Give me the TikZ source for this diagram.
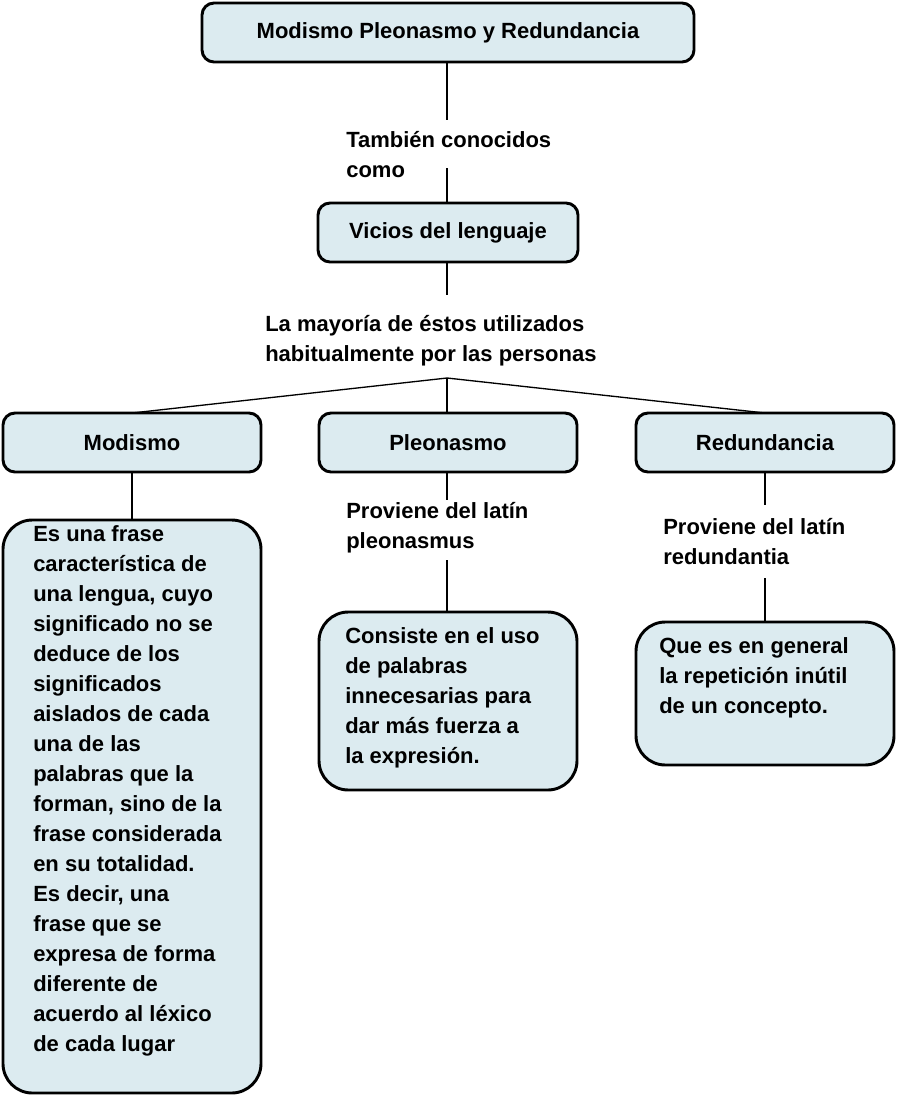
\documentclass[tikz,border=0pt]{standalone}
\usepackage{fontspec}
\setmainfont{Liberation Sans}
\begin{document}
\begin{tikzpicture}[x=0.75pt,y=-0.75pt,
  box/.style={draw=black,line width=2.2pt,fill=boxfill,rounded corners=9pt},
  fnt/.style={font=\fontsize{16.5}{22.5}\selectfont\bfseries},
  txt/.style={fnt,align=left,anchor=north west,inner sep=0pt},
  conn/.style={line width=1pt}]
\definecolor{boxfill}{HTML}{DCEBF0}
\useasboundingbox (0,0) rectangle (897,1096);
% boxes
\draw[box] (202,3) rectangle (694,62);
\node[fnt] (t) at (448,33) {Modismo Pleonasmo y Redundancia};
\draw[box] (318,203) rectangle (578,262);
\node[fnt] (v) at (448,233) {Vicios del lenguaje};
\draw[box] (3,413) rectangle (261,472);
\node[fnt] (m) at (132,443) {Modismo};
\draw[box] (319,413) rectangle (577,472);
\node[fnt] (p) at (448,443) {Pleonasmo};
\draw[box] (636,413) rectangle (894,472);
\node[fnt] (r) at (765,443) {Redundancia};
\draw[box,rounded corners=22pt] (3,520) rectangle (261,1093);
\draw[box,rounded corners=22pt] (319,612) rectangle (577,790);
\draw[box,rounded corners=22pt] (636,622) rectangle (894,765);
% labels
\node[txt] (l1) at (346,131) {También conocidos\\como};
\node[txt] (l2) at (265,315) {La mayoría de éstos utilizados\\habitualmente por las personas};
\node[txt] (l3) at (346,502) {Proviene del latín\\pleonasmus};
\node[txt] (l4) at (663,518) {Proviene del latín\\redundantia};
\node[txt] (b1) at (33,525) {Es una frase\\característica de\\una lengua, cuyo\\significado no se\\deduce de los\\significados\\aislados de cada\\una de las\\palabras que la\\forman, sino de la\\frase considerada\\en su totalidad.\\Es decir, una\\frase que se\\expresa de forma\\diferente de\\acuerdo al léxico\\de cada lugar};
\node[txt] (b2) at (345,627) {Consiste en el uso\\de palabras\\innecesarias para\\dar más fuerza a\\la expresión.};
\node[txt] (b3) at (659,637) {Que es en general\\la repetición inútil\\de un concepto.};
% connectors
\coordinate (hub) at (447,378);
\draw[conn] (447,62) -- (447,120);
\draw[conn] (447,168) -- (447,203);
\draw[conn] (447,262) -- (447,295);
\draw[conn] (hub) -- (132,413);
\draw[conn] (hub) -- (447,413);
\draw[conn] (hub) -- (765,413);
\draw[conn] (132,472) -- (132,520);
\draw[conn] (447,472) -- (447,500);
\draw[conn] (447,560) -- (447,612);
\draw[conn] (765,472) -- (765,505);
\draw[conn] (765,578) -- (765,622);
\end{tikzpicture}
\end{document}
